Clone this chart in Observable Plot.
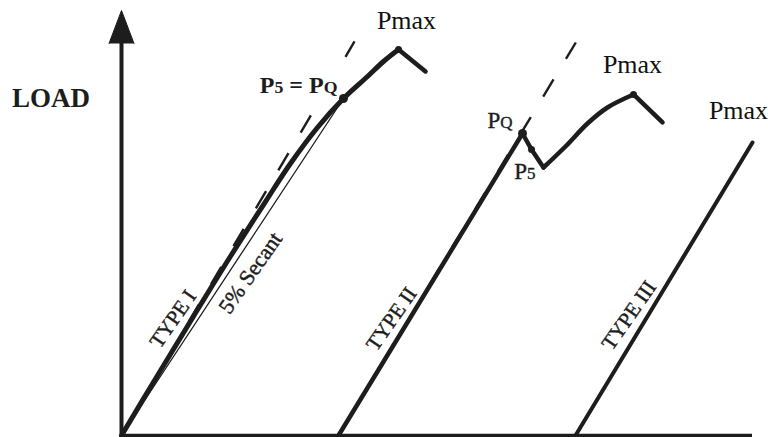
<!DOCTYPE html>
<html>
<head>
<meta charset="utf-8">
<script src="https://cdn.jsdelivr.net/npm/d3@7"></script>
<script src="https://cdn.jsdelivr.net/npm/@observablehq/plot@0.6"></script>
<style>
  html, body { margin: 0; padding: 0; background: #fff; }
  #chart svg { display: block; }
</style>
</head>
<body>
<div id="chart"></div>
<script>
// Schematic load–displacement records, [displacement, load] in arbitrary units (0–100).
const typeIRise = [[0, 0], [5.71, 14.12], [11.49, 28.24], [17.35, 42.35], [22.93, 55.29],
  [26.78, 64.0], [31.06, 72.47], [35.18, 79.29], [38.99, 84.47], [41.52, 88.0], [43.9, 90.82]];
const typeIDrop = [[43.9, 90.82], [48.18, 85.65]];

const typeIIRise = [[34.39, 0], [63.55, 71.06]];
const typeIIPopIn = [[63.55, 71.06], [64.98, 67.29], [66.88, 63.06]];
const typeIIRecover = [[66.88, 63.06], [70.36, 68.0], [73.85, 73.41], [77.02, 77.18], [81.14, 80.24]];
const typeIIDrop = [[81.14, 80.24], [85.74, 73.65]];

const typeIIIRise = [[71.95, 0], [100, 68.94]];

// Initial elastic slopes (dashed) and the 5% secant offset line
const tangentI = [[0, 0], [36.93, 92.71]];
const tangentII = [[34.39, 0], [72.0, 92.47]];
const secantI = [[0, 0], [35.18, 79.29]];

// Characteristic loads
const pqI = [35.18, 79.29];
const pmaxI = [43.9, 90.82];
const pqII = [63.55, 71.06];
const p5II = [64.98, 67.29];
const pmaxII = [81.14, 80.24];
const pmaxIII = [100, 68.94];

// Curve names written along each record, and where they sit
const typeNames = ["TYPE I", "TYPE II", "TYPE III"];
const typeNameX = [8.16, 42.79, 80.43];
const typeNameY = [27.41, 27.41, 28.24];

const secantLabel = ["5% Secant"];
const secantLabelAt = [[20.44, 38.24]];

const axisTop = 92.24; // load value where the arrowhead begins

const ink = "#1d1d1d";
const serif = "'Liberation Serif', 'Times New Roman', serif";
const X = d => d[0], Y = d => d[1];

const curve = (data, width, extra = {}) =>
  Plot.line(data, {x: X, y: Y, stroke: ink, strokeWidth: width,
    strokeLinejoin: "round", strokeLinecap: "round", ...extra});

const pqILabel = {x: X, y: Y, text: () => "P{5} = P{Q}", dx: -6, dy: -6, fontSize: 24,
  fontWeight: "bold", textAnchor: "end", lineAnchor: "bottom"};

const plot = Plot.plot({
  width: 768,
  height: 437,
  marginLeft: 121,
  marginRight: 16,
  marginTop: 10,
  marginBottom: 2,
  x: {domain: [0, 100], axis: null},
  y: {domain: [0, 100], axis: null},
  style: {fontFamily: serif, background: "#fff", color: ink, overflow: "visible"},
  marks: [
    // axes
    Plot.ruleY([0], {x1: 0, x2: 100, stroke: ink, strokeWidth: 3.5}),
    Plot.ruleX([0], {y1: -0.5, y2: axisTop, stroke: ink, strokeWidth: 4}),
    Plot.vector([[0, axisTop]], {x: X, y: Y, length: 33, r: 12.5, shape: "spike", anchor: "start",
      fill: ink, fillOpacity: 1, stroke: ink, strokeWidth: 1}),

    // dashed initial slopes and the secant
    curve(tangentI, 2.4, {strokeDasharray: "20,24", strokeLinecap: "butt"}),
    curve(tangentII, 2.4, {strokeDasharray: "20,24", strokeLinecap: "butt"}),
    curve(secantI, 1.3),

    // white knock-out behind the P5 = PQ label so the dashed slope stops short of it
    Plot.text([pqI], {...pqILabel, fill: "#fff", stroke: "#fff", strokeWidth: 15, strokeLinejoin: "round"}),

    // Type I
    curve(typeIRise, 5, {curve: "catmull-rom"}),
    curve(typeIDrop, 4.5),
    // Type II
    curve(typeIIRise, 4.5),
    curve(typeIIPopIn, 4.5),
    curve(typeIIRecover, 4.5, {curve: "catmull-rom"}),
    curve(typeIIDrop, 4.5),
    // Type III
    curve(typeIIIRise, 4),

    // characteristic points
    Plot.dot([pqI, pqII], {x: X, y: Y, r: 4.5, fill: ink}),
    Plot.dot([pmaxI, pmaxII, p5II], {x: X, y: Y, r: 3.5, fill: ink}),

    // labels
    Plot.text(["LOAD"], {x: -11.17, y: 77.18, text: d => d, fontSize: 27, fontWeight: "bold",
      textAnchor: "middle", lineAnchor: "bottom", fill: ink}),
    Plot.text([pqI], {...pqILabel, fill: ink}),
    Plot.text([pmaxI], {x: X, y: Y, text: () => "Pmax", dx: 8, dy: -21, fontSize: 26,
      textAnchor: "middle", lineAnchor: "bottom", fill: "#111"}),
    Plot.text([pqII], {x: X, y: Y, text: () => "P{Q}", dx: -10, dy: -5, fontSize: 23,
      textAnchor: "end", lineAnchor: "bottom", fill: ink, stroke: ink, strokeWidth: 0.4}),
    Plot.text([p5II], {x: X, y: Y, text: () => "P{5}", dx: 4, dy: 29, fontSize: 23,
      textAnchor: "end", lineAnchor: "bottom", fill: ink, stroke: ink, strokeWidth: 0.4}),
    Plot.text([pmaxII], {x: X, y: Y, text: () => "Pmax", dx: -1, dy: -21, fontSize: 26,
      textAnchor: "middle", lineAnchor: "bottom", fill: "#111"}),
    Plot.text([pmaxIII], {x: X, y: Y, text: () => "Pmax", dx: -14, dy: -24, fontSize: 26,
      textAnchor: "middle", lineAnchor: "bottom", fill: "#111"}),
    Plot.text(typeNames, {x: (d, i) => typeNameX[i], y: (d, i) => typeNameY[i], text: d => d,
      rotate: -55, fontSize: 21, textAnchor: "middle", lineAnchor: "middle", fill: ink,
      stroke: ink, strokeWidth: 0.45}),
    Plot.text(secantLabel, {x: (d, i) => secantLabelAt[i][0], y: (d, i) => secantLabelAt[i][1],
      text: d => d, rotate: -55, fontSize: 22, textAnchor: "middle", lineAnchor: "middle", fill: ink,
      stroke: ink, strokeWidth: 0.45})
  ]
});

// Render "{…}" parts of a label as the smaller index letter (P₅, P_Q).
plot.querySelectorAll("text").forEach(t => {
  const s = t.textContent;
  if (!s.includes("{")) return;
  t.textContent = "";
  s.split(/(\{[^}]*\})/).forEach(part => {
    if (!part) return;
    const ts = document.createElementNS("http://www.w3.org/2000/svg", "tspan");
    if (part.startsWith("{")) {
      ts.textContent = part.slice(1, -1);
      ts.setAttribute("font-size", "0.74em");
    } else {
      ts.textContent = part;
    }
    t.appendChild(ts);
  });
});

document.getElementById("chart").appendChild(plot);
</script>
</body>
</html>
